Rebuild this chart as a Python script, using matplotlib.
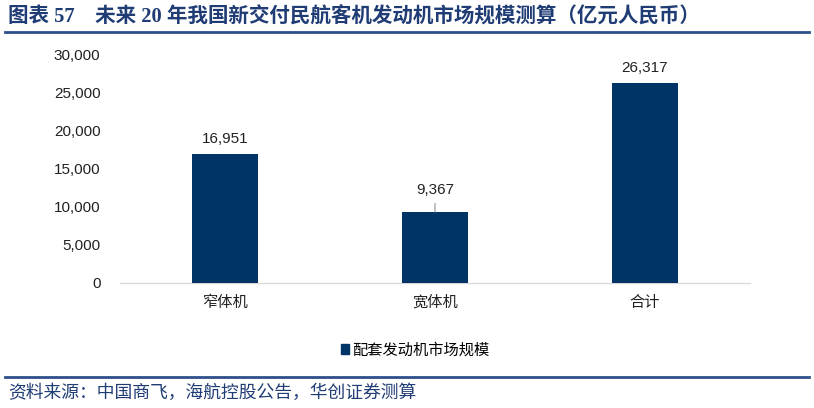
import matplotlib.pyplot as plt
from matplotlib.ticker import FuncFormatter
from matplotlib.patches import Rectangle

plt.rcParams['font.family'] = ['Liberation Sans', 'Noto Sans CJK SC', 'DejaVu Sans']

categories = ["窄体机", "宽体机", "合计"]
values = [16951, 9367, 26317]
series_name = "配套发动机市场规模"
yticks = [0, 5000, 10000, 15000, 20000, 25000, 30000]

bar_color = "#003366"
title_color = "#1f3c74"
line_color = "#2e4f8c"

fig = plt.figure(figsize=(8.14, 4.08), dpi=100)
ax = fig.add_axes([120 / 814, 1 - 283 / 408, 630 / 814, 228 / 408])

x = range(len(categories))
ax.bar(x, values, width=0.31, color=bar_color, zorder=3)
ax.set_xlim(-0.5, len(categories) - 0.5)
ax.set_ylim(0, 30000)
ax.set_yticks(yticks)
ax.yaxis.set_major_formatter(FuncFormatter(lambda v, p: f"{int(v):,}"))
ax.set_xticks(list(x))
ax.set_xticklabels(categories, fontsize=11)
ax.tick_params(axis="y", length=0, pad=14, labelsize=11, labelcolor="#222222")
ax.tick_params(axis="x", length=0, pad=9, labelcolor="#222222")
for s in ["top", "right", "left"]:
    ax.spines[s].set_visible(False)
ax.spines["bottom"].set_color("#d9d9d9")
ax.spines["bottom"].set_linewidth(1)

for i, v in enumerate(values):
    if i == 1:
        # this one sits on a short grey leader line
        ax.annotate(f"{v:,}", xy=(i, v), xytext=(0, 11), textcoords="offset points",
                    ha="center", va="bottom", fontsize=11, color="#222222",
                    arrowprops=dict(arrowstyle="-", color="#a6a6a6", lw=1,
                                    shrinkA=3, shrinkB=0))
    else:
        ax.annotate(f"{v:,}", xy=(i, v), xytext=(0, 6), textcoords="offset points",
                    ha="center", va="bottom", fontsize=11, color="#222222")

# legend
leg_h = Rectangle((0, 0), 1, 1, color=bar_color)
fig.legend([leg_h], [series_name], loc="center", bbox_to_anchor=(415 / 814, 1 - 350 / 408),
           frameon=False, fontsize=11, handlelength=0.5, handleheight=0.6,
           handletextpad=0.2)

# title and rules
fig.text(8 / 814, 1 - 17 / 408, "图表 57    未来 20 年我国新交付民航客机发动机市场规模测算（亿元人民币）",
         fontsize=14.8, fontweight="bold", color=title_color, va="center", ha="left",
         family=["Liberation Serif", "Noto Sans CJK SC"])
fig.add_artist(plt.Line2D([5 / 814, 809 / 814], [1 - 32 / 408] * 2, color=line_color, lw=2))
fig.add_artist(plt.Line2D([5 / 814, 809 / 814], [1 - 377 / 408] * 2, color=line_color, lw=2))
fig.text(8 / 814, 1 - 393 / 408, "资料来源：中国商飞，海航控股公告，华创证券测算",
         fontsize=12.8, style="italic", color=title_color, va="center", ha="left",
         family=["Noto Sans CJK SC"])

fig.savefig("out.png", dpi=100)
